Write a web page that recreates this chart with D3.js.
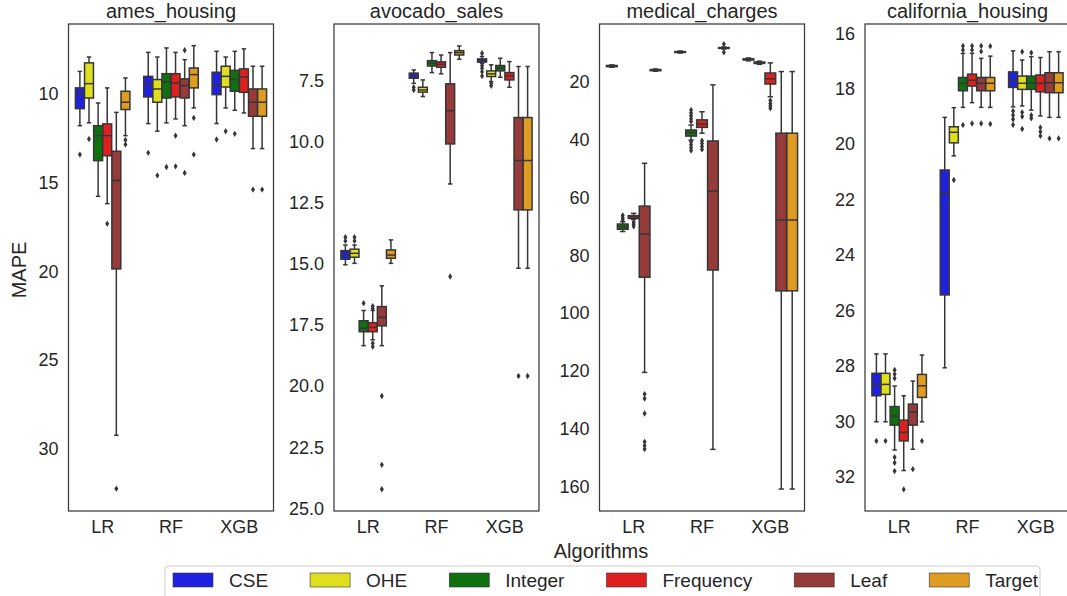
<!DOCTYPE html>
<html>
<head>
<meta charset="utf-8">
<script src="https://cdn.jsdelivr.net/npm/d3@7"></script>
<style>
  body { margin: 0; background: #fff; }
  svg { display: block; font-family: "Liberation Sans", Arial, Helvetica, sans-serif; }
</style>
</head>
<body>
<svg id="chart" width="1067" height="596"></svg>
<script>
// Categories and encodings
const algorithms = ["LR", "RF", "XGB"];
const encodings = ["CSE", "OHE", "Integer", "Frequency", "Leaf", "Target"];
const encodingColors = ["#2020df", "#dfdf20", "#107010", "#df2020", "#963a3a", "#df9c20"];

// Box statistics per dataset:
// [algorithm, encoding, lower whisker, q1, median, q3, upper whisker, outliers]
const amesHousing = [
  ["LR", "CSE",       8.73, 9.66, 10.0, 10.83, 11.79, [13.42]],
  ["LR", "OHE",       7.92, 8.25, 9.42, 10.23, 11.63, [12.54]],
  ["LR", "Integer",   10.51, 11.79, 12.35, 13.76, 15.77, []],
  ["LR", "Frequency", 9.66, 11.69, 12.35, 13.48, 16.18, [17.31]],
  ["LR", "Leaf",      11.04, 13.23, 14.88, 19.86, 29.23, [32.24]],
  ["LR", "Target",    9.1, 9.85, 10.47, 10.88, 12.35, [12.6, 12.85]],
  ["RF", "CSE",       7.66, 9.01, 9.44, 10.17, 11.67, [13.32]],
  ["RF", "OHE",       7.92, 9.19, 9.72, 10.47, 12.1, [14.59]],
  ["RF", "Integer",   7.41, 8.86, 9.32, 10.23, 11.63, [14.12]],
  ["RF", "Frequency", 7.66, 8.86, 9.38, 10.17, 11.41, [12.35, 14.08]],
  ["RF", "Leaf",      8.07, 9.15, 9.53, 10.23, 11.79, [7.54, 14.45]],
  ["RF", "Target",    7.28, 8.54, 8.91, 9.66, 10.79, [11.35, 13.42]],
  ["XGB", "CSE",       7.6, 8.78, 9.51, 10.04, 11.67, [12.57]],
  ["XGB", "OHE",       7.92, 8.44, 9.01, 9.61, 10.79, [12.1]],
  ["XGB", "Integer",   7.6, 8.67, 9.19, 9.85, 10.92, [12.25]],
  ["XGB", "Frequency", 7.46, 8.59, 9.04, 9.91, 11.07, []],
  ["XGB", "Leaf",      8.44, 9.72, 10.47, 11.26, 13.08, [15.39]],
  ["XGB", "Target",    8.44, 9.72, 10.47, 11.26, 13.08, [15.39]]
];

const avocadoSales = [
  ["LR", "CSE",       14.22, 14.45, 14.63, 14.8, 15.03, [13.9, 14.05]],
  ["LR", "OHE",       14.22, 14.39, 14.56, 14.72, 14.97, [13.9, 14.05]],
  ["LR", "Integer",   16.9, 17.32, 17.63, 17.77, 18.34, [16.6]],
  ["LR", "Frequency", 16.9, 17.4, 17.59, 17.77, 18.1, [16.72, 16.82, 18.24, 18.38]],
  ["LR", "Leaf",      15.89, 16.74, 17.18, 17.53, 18.34, [20.4, 23.22, 24.22]],
  ["LR", "Target",    14.01, 14.42, 14.63, 14.76, 14.97, []],
  ["RF", "CSE",       7.05, 7.18, 7.3, 7.39, 7.6, [7.76, 7.87]],
  ["RF", "OHE",       7.46, 7.76, 7.87, 7.96, 8.14, []],
  ["RF", "Integer",   6.34, 6.67, 6.78, 6.89, 7.16, []],
  ["RF", "Frequency", 6.44, 6.72, 6.82, 6.94, 7.21, []],
  ["RF", "Leaf",      6.34, 7.62, 8.72, 10.08, 11.72, [15.51]],
  ["RF", "Target",    6.07, 6.26, 6.34, 6.44, 6.61, []],
  ["XGB", "CSE",       6.5, 6.6, 6.67, 6.73, 6.78, [6.37, 6.87, 6.98, 7.12, 7.3]],
  ["XGB", "OHE",       6.84, 7.09, 7.21, 7.32, 7.53, [7.6, 7.7]],
  ["XGB", "Integer",   6.57, 6.87, 6.98, 7.09, 7.35, []],
  ["XGB", "Frequency", 6.71, 7.16, 7.3, 7.46, 7.76, []],
  ["XGB", "Leaf",      6.91, 9.0, 10.76, 12.78, 15.17, [19.58]],
  ["XGB", "Target",    6.91, 9.0, 10.76, 12.78, 15.17, [19.58]]
];

// OHE has no runs for this dataset
const medicalCharges = [
  ["LR", "CSE",       14.2, 14.4, 14.6, 14.8, 15.0, []],
  ["LR", "Integer",   68.4, 69.2, 70.1, 71.0, 71.8, [66.2, 67.0, 67.7]],
  ["LR", "Frequency", 65.5, 66.3, 66.8, 67.3, 67.6, [68.5, 69.3, 70.0]],
  ["LR", "Leaf",      48.2, 63.0, 72.7, 87.6, 120.5, [128.0, 129.5, 134.7, 144.5, 145.8, 147.0]],
  ["LR", "Target",    15.6, 15.8, 16.0, 16.2, 16.4, []],
  ["RF", "CSE",       9.4, 9.6, 9.75, 9.9, 10.1, []],
  ["RF", "Integer",   35.0, 36.7, 37.6, 38.8, 40.2, [29.8, 30.8, 31.8, 32.8, 33.8, 40.8, 41.8, 42.8, 43.8]],
  ["RF", "Frequency", 30.4, 33.2, 34.6, 35.8, 37.8, [40.4, 41.4, 42.4, 43.4]],
  ["RF", "Leaf",      21.1, 40.5, 57.8, 85.1, 147.1, []],
  ["RF", "Target",    8.0, 8.2, 8.35, 8.5, 8.7, [7.0, 9.8]],
  ["XGB", "CSE",       11.8, 12.1, 12.3, 12.5, 12.8, []],
  ["XGB", "Integer",   12.9, 13.2, 13.4, 13.7, 14.0, []],
  ["XGB", "Frequency", 13.5, 17.0, 19.0, 20.8, 25.2, [26.5, 27.5, 28.3, 29.2]],
  ["XGB", "Leaf",      16.5, 37.8, 67.8, 92.3, 160.8, []],
  ["XGB", "Target",    16.5, 37.8, 67.8, 92.3, 160.8, []]
];

const californiaHousing = [
  ["LR", "CSE",       27.57, 28.27, 28.67, 29.08, 30.02, [30.71]],
  ["LR", "OHE",       27.57, 28.27, 28.67, 29.03, 30.02, [30.71]],
  ["LR", "Integer",   28.73, 29.47, 29.81, 30.14, 31.04, [28.15, 28.3, 28.45, 31.3, 31.5, 31.8]],
  ["LR", "Frequency", 29.08, 29.96, 30.4, 30.71, 31.78, [32.46]],
  ["LR", "Leaf",      28.55, 29.38, 29.66, 30.14, 31.01, [31.73]],
  ["LR", "Target",    27.61, 28.31, 28.72, 29.14, 30.02, [30.71]],
  ["RF", "CSE",       19.03, 20.93, 21.77, 25.44, 28.07, []],
  ["RF", "OHE",       18.68, 19.37, 19.57, 19.95, 20.42, [21.29]],
  ["RF", "Integer",   16.72, 17.59, 17.8, 18.07, 18.67, [16.45, 16.6, 19.31]],
  ["RF", "Frequency", 16.72, 17.47, 17.69, 17.9, 18.5, [16.45, 16.6, 19.25]],
  ["RF", "Leaf",      16.9, 17.59, 17.8, 18.07, 18.67, [16.45, 16.65, 19.25]],
  ["RF", "Target",    16.82, 17.59, 17.8, 18.07, 18.67, [16.46, 19.27]],
  ["XGB", "CSE",       16.63, 17.39, 17.69, 17.95, 18.65, [18.8, 18.95, 19.1, 19.3]],
  ["XGB", "OHE",       16.96, 17.54, 17.8, 18.02, 18.62, [16.66, 18.85, 19.0, 19.45]],
  ["XGB", "Integer",   16.84, 17.54, 17.8, 18.02, 18.77, [16.7, 18.95, 19.06]],
  ["XGB", "Frequency", 16.87, 17.5, 17.8, 18.11, 18.98, [19.4, 19.55, 19.7]],
  ["XGB", "Leaf",      16.66, 17.42, 17.78, 18.14, 19.03, [19.79]],
  ["XGB", "Target",    16.66, 17.42, 17.78, 18.14, 19.03, [19.79]]
];

// Tick labels of each y axis
const amesTicks = [10, 15, 20, 25, 30];
const avocadoTicks = [7.5, 10.0, 12.5, 15.0, 17.5, 20.0, 22.5, 25.0];
const medicalTicks = [20, 40, 60, 80, 100, 120, 140, 160];
const californiaTicks = [16, 18, 20, 22, 24, 26, 28, 30, 32];

const panels = [
  { title: "ames_housing",      rows: amesHousing,       domain: [6.06, 33.5],  ticks: amesTicks,       fmt: d3.format("d") },
  { title: "avocado_sales",     rows: avocadoSales,      domain: [5.17, 25.11], ticks: avocadoTicks,    fmt: d3.format(".1f") },
  { title: "medical_charges",   rows: medicalCharges,    domain: [0.06, 168.4], ticks: medicalTicks,    fmt: d3.format("d") },
  { title: "california_housing", rows: californiaHousing, domain: [15.66, 33.24], ticks: californiaTicks, fmt: d3.format("d") }
];

// Layout
const svg = d3.select("#chart");
const textColor = "#262626";
const lineColor = "#363636";
const plotTop = 24, plotBottom = 511;
const panelLeft0 = 68.5, panelStep = 265.5, panelWidth = 205;

const colorOf = d3.scaleOrdinal().domain(encodings).range(encodingColors);

// Thin diamond marker for fliers
const diamond = "M0,-3.2L2,0L0,3.2L-2,0Z";

panels.forEach((p, i) => {
  const left = panelLeft0 + i * panelStep;
  const g = svg.append("g");

  const x = d3.scaleBand().domain(algorithms).range([left, left + panelWidth]).padding(0);
  const y = d3.scaleLinear().domain(p.domain).range([plotTop, plotBottom]);

  const hues = encodings.filter(e => p.rows.some(r => r[1] === e));
  const groupW = x.bandwidth() * 0.8;
  const hx = d3.scaleBand().domain(hues).range([-groupW / 2, groupW / 2]).padding(0);
  const boxW = hx.bandwidth() * 0.98;

  // y axis
  const yAxis = d3.axisLeft(y).tickValues(p.ticks).tickFormat(p.fmt).tickSize(0).tickPadding(10);
  const ya = g.append("g").attr("transform", `translate(${left},0)`).call(yAxis);
  ya.select(".domain").remove();
  ya.selectAll("text").attr("font-size", 18).attr("fill", textColor)
    .attr("font-family", "Liberation Sans, Arial, sans-serif");

  // x axis
  const xAxis = d3.axisBottom(x).tickSize(0).tickPadding(9);
  const xa = g.append("g").attr("transform", `translate(0,${plotBottom})`).call(xAxis);
  xa.select(".domain").remove();
  xa.selectAll("text").attr("font-size", 18).attr("fill", textColor)
    .attr("font-family", "Liberation Sans, Arial, sans-serif");

  // boxes
  const boxes = g.append("g").selectAll("g.box").data(p.rows).join("g").attr("class", "box");
  boxes.each(function (r) {
    const [alg, enc, lo, q1, med, q3, hi, outs] = r;
    const cx = x(alg) + x.bandwidth() / 2 + hx(enc) + hx.bandwidth() / 2;
    const b = d3.select(this);
    // whiskers
    b.append("line").attr("x1", cx).attr("x2", cx).attr("y1", y(q1)).attr("y2", y(lo))
      .attr("stroke", lineColor).attr("stroke-width", 1.5);
    b.append("line").attr("x1", cx).attr("x2", cx).attr("y1", y(q3)).attr("y2", y(hi))
      .attr("stroke", lineColor).attr("stroke-width", 1.5);
    // caps
    [lo, hi].forEach(v => {
      b.append("line").attr("x1", cx - boxW / 4).attr("x2", cx + boxW / 4)
        .attr("y1", y(v)).attr("y2", y(v))
        .attr("stroke", lineColor).attr("stroke-width", 1.5);
    });
    // box
    b.append("rect").attr("x", cx - boxW / 2).attr("width", boxW)
      .attr("y", Math.min(y(q1), y(q3))).attr("height", Math.abs(y(q3) - y(q1)))
      .attr("fill", colorOf(enc)).attr("stroke", lineColor).attr("stroke-width", 1.5);
    // median
    b.append("line").attr("x1", cx - boxW / 2).attr("x2", cx + boxW / 2)
      .attr("y1", y(med)).attr("y2", y(med))
      .attr("stroke", lineColor).attr("stroke-width", 1.5);
    // fliers
    b.selectAll("path.flier").data(outs).join("path").attr("class", "flier")
      .attr("d", diamond)
      .attr("transform", v => `translate(${cx},${y(v)})`)
      .attr("fill", lineColor);
  });

  // frame
  g.append("rect").attr("x", left).attr("y", plotTop)
    .attr("width", panelWidth).attr("height", plotBottom - plotTop)
    .attr("fill", "none").attr("stroke", "#3a3a3a").attr("stroke-width", 1.25);

  // title
  g.append("text").attr("x", left + panelWidth / 2).attr("y", 18)
    .attr("text-anchor", "middle").attr("font-size", 20).attr("fill", textColor)
    .text(p.title);
});

// axis labels
svg.append("text").attr("x", 601).attr("y", 558).attr("text-anchor", "middle")
  .attr("font-size", 20).attr("fill", textColor).text("Algorithms");
svg.append("text").attr("transform", "translate(26,270) rotate(-90)")
  .attr("text-anchor", "middle").attr("font-size", 20).attr("fill", textColor).text("MAPE");

// legend
const legend = svg.append("g");
legend.append("rect").attr("x", 165).attr("y", 566).attr("width", 875).attr("height", 42)
  .attr("rx", 4).attr("fill", "#fff").attr("stroke", "#cccccc").attr("stroke-width", 1);
let lx = 173;
encodings.forEach((e, i) => {
  legend.append("rect").attr("x", lx).attr("y", 573).attr("width", 40).attr("height", 14)
    .attr("fill", colorOf(e)).attr("stroke", lineColor).attr("stroke-width", 0.6);
  const t = legend.append("text").attr("x", lx + 56).attr("y", 587)
    .attr("font-size", 19).attr("fill", textColor).text(e);
  lx += 56 + t.node().getComputedTextLength() + 42;
});
</script>
</body>
</html>
